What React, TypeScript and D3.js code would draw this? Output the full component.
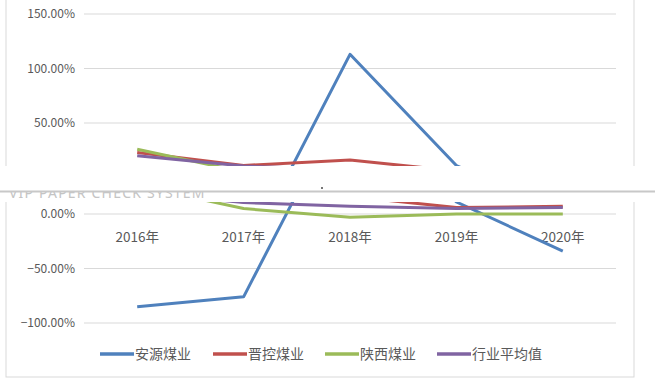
import * as d3 from 'd3';
import React from 'react';

// categories and series (growth rate, %)
const years = ['2016年', '2017年', '2018年', '2019年', '2020年'];
const anyuan = [-85, -76, 113, 11, -34];
const jinkong = [23, 11, 16, 6, 7];
const shaanxi = [26, 5, -3, 0, 0];
const average = [20, 10.5, 7, 5, 6];
const seriesNames = ['安源煤业', '晋控煤业', '陕西煤业', '行业平均值'];
const seriesColors = ['#4F81BD', '#C0504D', '#9BBB59', '#8064A2'];
const yTicks = [-100, -50, 0, 50, 100, 150];

const W = 655;
const H = 386;
const FONT = '"Noto Sans CJK SC", "Noto Sans", sans-serif';

// the scan is cut: upper half kept at its place, lower half shifted down
const SHIFT = 36.5;

type BodyProps = { offset: number; top: number; bottom: number };

function ChartBody({ offset, top, bottom }: BodyProps) {
    const x = d3.scalePoint<string>().domain(years).range([84, 616]).padding(0.5);
    const y = d3.scaleLinear().domain([-100, 150]).range([286.5, 14]);
    const line = d3.line<number>()
        .x((_, i) => x(years[i]) as number)
        .y(d => y(d));
    const series = [anyuan, jinkong, shaanxi, average];
    // only keep the texts that show in this piece of the scan
    const shows = (yy: number) => yy + offset > top && yy + offset < bottom;

    const legendX = [100, 213, 325, 437];
    const legendY = 354 - SHIFT;
    const catY = y(0) + 23;

    return (
        <g transform={`translate(0,${offset})`}>
            <rect x={6} y={-30} width={628} height={370.5} fill="white" stroke="#d9d9d9" />
            {yTicks.map(t => (
                <g key={t}>
                    <line x1={84} x2={616} y1={y(t)} y2={y(t)} stroke="#d9d9d9" strokeWidth={1} />
                    {shows(y(t)) && (
                        <text x={75} y={y(t)} dy="0.35em" textAnchor="end" fontSize={12}
                              fill="#595959" fontFamily={FONT}>
                            {d3.format('.2f')(t) + '%'}
                        </text>
                    )}
                </g>
            ))}
            {shows(catY) && years.map(c => (
                <text key={c} x={x(c)} y={catY} dy="0.35em" textAnchor="middle"
                      fontSize={13.5} fill="#595959" fontFamily={FONT}>{c}</text>
            ))}
            {series.map((s, i) => (
                <path key={i} d={line(s) as string} fill="none" stroke={seriesColors[i]}
                      strokeWidth={3} strokeLinejoin="round" />
            ))}
            {shows(legendY) && seriesNames.map((n, i) => (
                <g key={n} transform={`translate(${legendX[i]},${legendY})`}>
                    <line x1={0} x2={34} y1={0} y2={0} stroke={seriesColors[i]} strokeWidth={3.5} />
                    <text x={35} y={0} dy="0.35em" fontSize={14} fill="#595959" fontFamily={FONT}>{n}</text>
                </g>
            ))}
        </g>
    );
}

export default function App() {
    return (
        <svg width={W} height={H} viewBox={`0 0 ${W} ${H}`}
             style={{ position: 'absolute', top: 0, left: 0, background: 'white' }}>
            <defs>
                <clipPath id="clipTop"><rect x={0} y={0} width={W} height={166} /></clipPath>
                <clipPath id="clipBottom"><rect x={0} y={202} width={W} height={H - 202} /></clipPath>
                <clipPath id="clipMark"><rect x={0} y={192} width={W} height={6} /></clipPath>
            </defs>
            <g clipPath="url(#clipTop)">
                <ChartBody offset={0} top={0} bottom={166} />
            </g>
            <g clipPath="url(#clipBottom)">
                <ChartBody offset={SHIFT} top={202} bottom={H} />
            </g>
            <g clipPath="url(#clipMark)">
                <text x={9} y={197.5} fontSize={14} letterSpacing={1.2} fill="#c4c4c4"
                      fontFamily='"Noto Sans", sans-serif'>VIP PAPER CHECK SYSTEM</text>
            </g>
            <line x1={0} x2={W} y1={191.5} y2={191.5} stroke="#c8c8c8" strokeWidth={2} />
            <rect x={321} y={187} width={2} height={2} fill="#777" />
        </svg>
    );
}
